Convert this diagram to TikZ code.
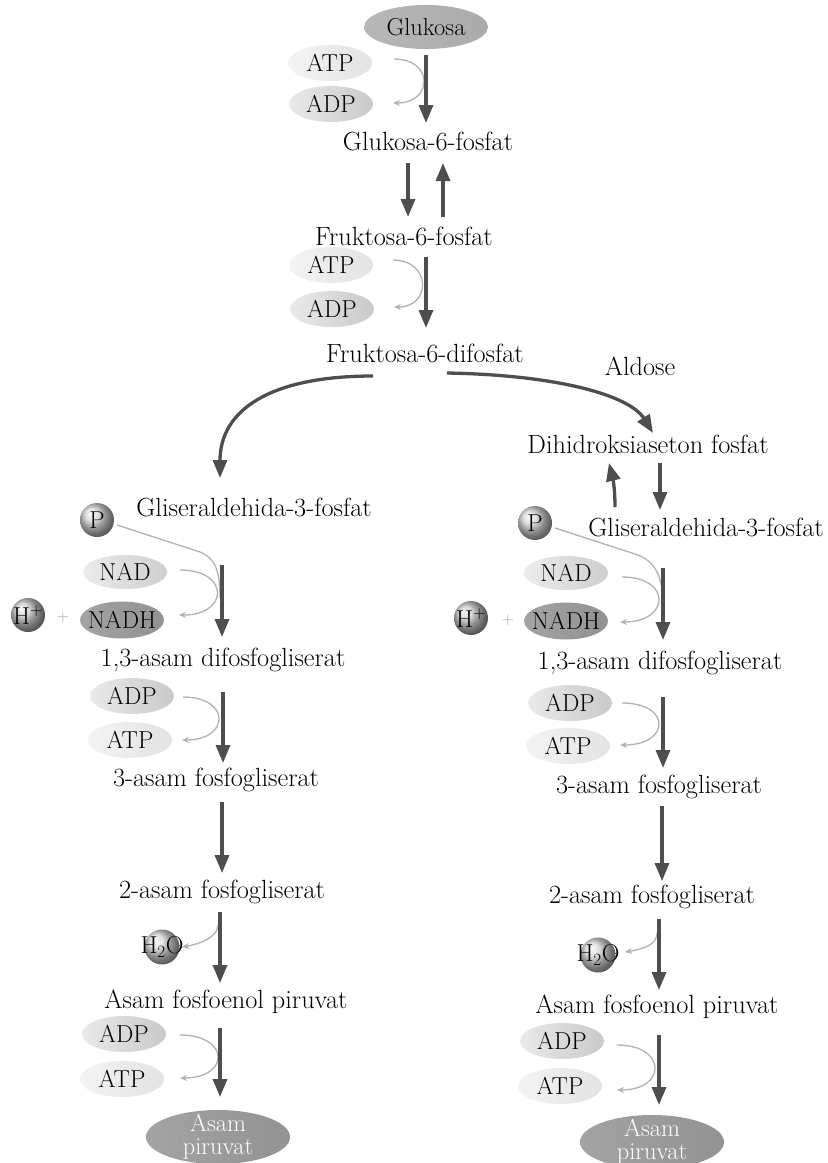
\documentclass[tikz,border=0pt]{standalone}
\usetikzlibrary{shapes.geometric,arrows.meta,calc,shadings}
\definecolor{arrc}{RGB}{78,78,78}
\definecolor{thinc}{RGB}{178,178,178}
\tikzset{
 flow/.style={font=\fontsize{26.3}{30}\selectfont, inner sep=0pt},
 lab/.style={font=\fontsize{24.5}{23}\selectfont, inner sep=0pt},
 big/.style={draw=arrc, line width=3.3pt, -{Triangle[length=18pt,width=14pt]}},
 thinarr/.style={draw=thinc, line width=1.3pt, -{Stealth[length=7pt,width=6pt]}},
 thinline/.style={draw=thinc, line width=1.3pt},
 mol/.style={ellipse, minimum width=84pt, minimum height=36pt, inner sep=0pt},
 atpmol/.style={mol, left color=gray!9, right color=gray!22, label={[lab]center:ATP}},
 adpmol/.style={mol, left color=gray!17, right color=gray!42, label={[lab]center:ADP}},
 nadmol/.style={mol, minimum height=34pt, left color=gray!15, right color=gray!38, label={[lab]center:NAD}},
 nadhmol/.style={mol, minimum height=37pt, left color=gray!72, right color=gray!86, label={[lab]center:NADH}},
 pyrmol/.style={ellipse, minimum width=144pt, minimum height=54pt, inner sep=0pt, left color=gray!72, right color=gray!85,
   label={[lab,text=white,align=center]center:Asam\\piruvat}},
 ball/.style={circle, minimum size=34pt, inner sep=0pt, ball color=#1},
 plus/.style={font=\fontsize{17}{17}\selectfont, text=gray!70, inner sep=0pt}
}
\begin{document}
\begin{tikzpicture}[x=1pt,y=-1pt]
\path[use as bounding box, fill=white] (0,0) rectangle (828,1163);

% ---------- top part ----------
\node[ellipse, minimum width=124pt, minimum height=44pt, inner sep=0pt, left color=gray!56, right color=gray!66,
      label={[lab]center:Glukosa}] (glu) at (426,27) {};
\node[atpmol] (atpA) at (330,63) {};
\node[adpmol] (adpA) at (331,104) {};
\node[flow] (g6p) at (428,141) {Glukosa-6-fosfat};
\node[flow] (f6p) at (404,236) {Fruktosa-6-fosfat};
\node[atpmol] (atpB) at (331,265) {};
\node[adpmol] (adpB) at (332,309) {};
\node[flow] (fdp) at (425,353) {Fruktosa-6-difosfat};
\node[flow] (ald) at (640,366) {Aldose};
\node[flow] (dhap) at (648,444) {Dihidroksiaseton fosfat};
\node[flow] (glL) at (254,507) {Gliseraldehida-3-fosfat};
\node[flow] (glR) at (706,527) {Gliseraldehida-3-fosfat};

% ---------- left branch ----------
\node[ball=gray!32, label={[lab]center:P}] (pL) at (97,520) {};
\node[nadmol] (nadL) at (125,572) {};
\node[nadhmol] (nadhL) at (122,620) {};
\node[ball=gray!42, label={[lab]center:H\textsuperscript{+}}] (hL) at (28,615) {};
\node[plus] (plusL) at (63,617) {+};
\node[flow] (bpgL) at (223,660) {1,3-asam difosfogliserat};
\node[adpmol] (adpL1) at (132,696) {};
\node[atpmol] (atpL1) at (130,740) {};
\node[flow] (pg3L) at (216,780) {3-asam fosfogliserat};
\node[flow] (pg2L) at (222,892) {2-asam fosfogliserat};
\node[ball=gray!30, minimum size=35pt, label={[lab]center:H\textsubscript{2}O}] (h2oL) at (162,947) {};
\node[flow] (pepL) at (226,1002) {Asam fosfoenol piruvat};
\node[adpmol] (adpL2) at (124,1034) {};
\node[atpmol] (atpL2) at (122,1079) {};
\node[pyrmol] (pyrL) at (218,1137) {};

% ---------- right branch ----------
\node[ball=gray!32, label={[lab]center:P}] (pR) at (535,523) {};
\node[nadmol] (nadR) at (566,573) {};
\node[nadhmol] (nadhR) at (566,621) {};
\node[ball=gray!42, label={[lab]center:H\textsuperscript{+}}] (hR) at (471,618) {};
\node[plus] (plusR) at (508,620) {+};
\node[flow] (bpgR) at (660,663) {1,3-asam difosfogliserat};
\node[adpmol] (adpR1) at (570,703) {};
\node[atpmol] (atpR1) at (568,746) {};
\node[flow] (pg3R) at (659,787) {3-asam fosfogliserat};
\node[flow] (pg2R) at (652,897) {2-asam fosfogliserat};
\node[ball=gray!30, minimum size=35pt, label={[lab]center:H\textsubscript{2}O}] (h2oR) at (598,955) {};
\node[flow] (pepR) at (657,1007) {Asam fosfoenol piruvat};
\node[adpmol] (adpR2) at (562,1041) {};
\node[atpmol] (atpR2) at (560,1086) {};
\node[pyrmol] (pyrR) at (652,1142) {};

% ---------- thin side arrows ----------
\draw[thinarr] ($(atpA)+(64,-4)$) .. controls +(40,0) and +(40,0) .. ($(adpA)+(62,-1)$);
\draw[thinarr] ($(atpB)+(62,-5)$) .. controls +(38,0) and +(38,0) .. ($(adpB)+(62,-2)$);

\draw[thinline] ($(pL)+(20,5)$) -- ($(pL)+(103,32)$) .. controls ($(pL)+(118,38)$) and ($(pL)+(123,50)$) .. ($(pL)+(123,78)$);
\draw[thinarr] ($(nadL)+(55,-2)$) .. controls +(50,0) and +(50,0) .. ($(nadhL)+(57,-5)$);
\draw[thinarr] ($(adpL1)+(51,1)$) .. controls +(48,0) and +(48,0) .. ($(atpL1)+(52,0)$);
\draw[thinarr] ($(pg2L)+(-4,33)$) .. controls +(0,12) and +(18,-3) .. ($(h2oL)+(20,0)$);
\draw[thinarr] ($(adpL2)+(56,1)$) .. controls +(50,0) and +(50,0) .. ($(atpL2)+(58,-1)$);

\draw[thinline] ($(pR)+(20,5)$) -- ($(pR)+(103,32)$) .. controls ($(pR)+(118,38)$) and ($(pR)+(127,50)$) .. ($(pR)+(128,78)$);
\draw[thinarr] ($(nadR)+(56,4)$) .. controls +(50,0) and +(50,0) .. ($(nadhR)+(54,1)$);
\draw[thinarr] ($(adpR1)+(52,0)$) .. controls +(50,0) and +(50,0) .. ($(atpR1)+(52,-1)$);
\draw[thinarr] ($(pg2R)+(5,36)$) .. controls +(0,12) and +(18,-3) .. ($(h2oR)+(27,-3)$);
\draw[thinarr] ($(adpR2)+(55,4)$) .. controls +(50,0) and +(50,0) .. ($(atpR2)+(57,4)$);

% ---------- main arrows ----------
\draw[big] ($(glu)+(0,28)$) -- ($(g6p)+(-2,-18)$);
\draw[big] ($(g6p)+(-20,22)$) -- ($(f6p)+(4,-19)$);
\draw[big] ($(f6p)+(39,-19)$) -- ($(g6p)+(15,22)$);
\draw[big] ($(f6p)+(22,21)$) -- ($(fdp)+(1,-25)$);
\draw[big] ($(fdp)+(-52,23)$) .. controls ($(fdp)+(-155,23)$) and ($(glL)+(-34,-97)$) .. ($(glL)+(-34,-29)$);
\draw[big] ($(fdp)+(22,20)$) .. controls ($(fdp)+(135,22)$) and ($(dhap)+(-18,-48)$) .. ($(dhap)+(5,-11)$);
\draw[big] ($(glR)+(-91,-20)$) .. controls +(0,-22) and +(3,12) .. ($(dhap)+(-39,19)$);
\draw[big] ($(dhap)+(12,19)$) -- ($(glR)+(-46,-17)$);

\draw[big] ($(glL)+(-32,58)$) -- ($(bpgL)+(-1,-23)$);
\draw[big] ($(bpgL)+(0,32)$) -- ($(pg3L)+(7,-17)$);
\draw[big] ($(pg3L)+(6,22)$) -- ($(pg2L)+(0,-19)$);
\draw[big] ($(pg2L)+(-2,20)$) -- ($(pepL)+(-6,-19)$);
\draw[big] ($(pepL)+(-6,26)$) -- ($(pyrL)+(2,-40)$);

\draw[big] ($(glR)+(-43,41)$) -- ($(bpgR)+(3,-23)$);
\draw[big] ($(bpgR)+(3,34)$) -- ($(pg3R)+(4,-19)$);
\draw[big] ($(pg3R)+(3,19)$) -- ($(pg2R)+(10,-16)$);
\draw[big] ($(pg2R)+(7,22)$) -- ($(pepR)+(2,-17)$);
\draw[big] ($(pepR)+(2,28)$) -- ($(pyrR)+(7,-37)$);
\end{tikzpicture}
\end{document}
